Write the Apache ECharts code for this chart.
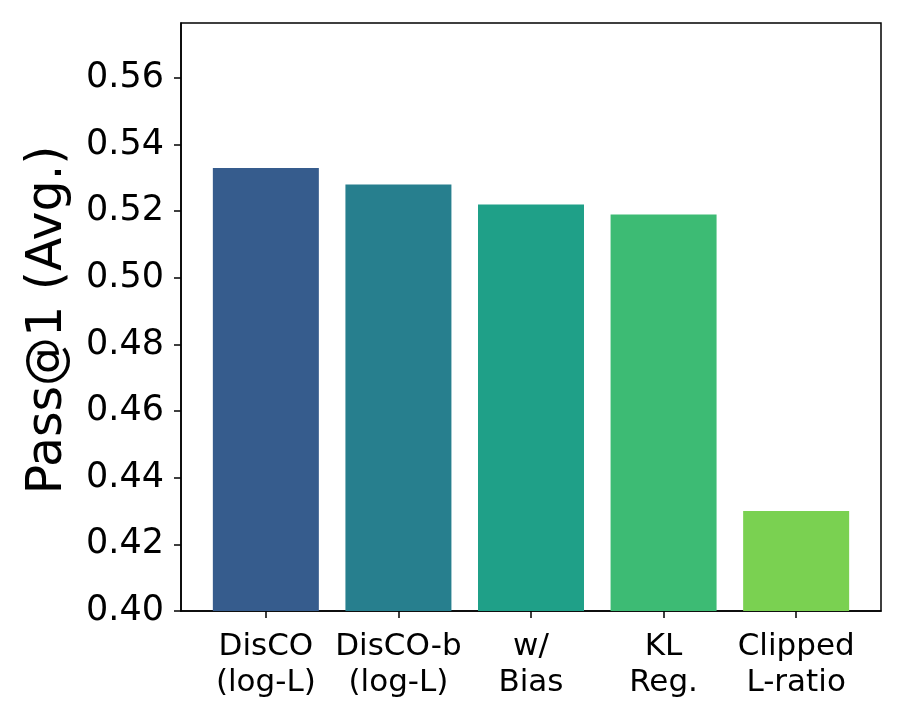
<!DOCTYPE html>
<html>
<head>
<meta charset="utf-8">
<script src="https://cdn.jsdelivr.net/npm/echarts@6/dist/echarts.min.js"></script>
<style>html,body{margin:0;padding:0;background:#fff}#c{width:916px;height:712px}</style>
</head>
<body>
<div id="c"></div>
<script>
var categories = ["DisCO\n(log-L)", "DisCO-b\n(log-L)", "w/\nBias", "KL\nReg.", "Clipped\nL-ratio"];
var values = [0.533, 0.528, 0.522, 0.519, 0.430];
var barColors = ["#365C8D", "#277F8E", "#1FA088", "#3DBB74", "#7AD151"];
var yTicks = [0.40, 0.42, 0.44, 0.46, 0.48, 0.50, 0.52, 0.54, 0.56];
var catPositions = [0, 1, 2, 3, 4];

var font = "DejaVu Sans";
var chart = echarts.init(document.getElementById('c'), null, {renderer: 'canvas'});
chart.setOption({
  animation: false,
  backgroundColor: '#fff',
  grid: {left: 181, right: 35, top: 23, bottom: 101, show: true, borderColor: '#000', borderWidth: 1.5, backgroundColor: 'transparent'},
  xAxis: {
    type: 'value', min: -0.64, max: 4.64,
    splitLine: {show: false},
    axisLine: {show: true, onZero: false, lineStyle: {color: '#000', width: 1.5}},
    axisTick: {show: true, customValues: catPositions, length: 7, lineStyle: {color: '#000', width: 1.5}},
    axisLabel: {show: true, customValues: catPositions, margin: 18, color: '#000', fontFamily: font, fontSize: 31, lineHeight: 36,
      formatter: function (v) { return categories[Math.round(v)]; }}
  },
  yAxis: {
    type: 'value', min: 0.40, max: 0.5765,
    splitLine: {show: false},
    axisLine: {show: true, onZero: false, lineStyle: {color: '#000', width: 1.5}},
    axisTick: {show: true, customValues: yTicks, length: 7, lineStyle: {color: '#000', width: 1.5}},
    axisLabel: {show: true, customValues: yTicks, margin: 17, color: '#000', fontFamily: font, fontSize: 35,
      formatter: function (v) { return v.toFixed(2); }}
  },
  graphic: [{
    type: 'text', x: 48, y: 320, rotation: Math.PI / 2,
    style: {text: 'Pass@1 (Avg.)', fill: '#000', font: '49px "DejaVu Sans"', align: 'center', verticalAlign: 'middle'}
  }],
  series: [{
    type: 'bar',
    barWidth: 106,
    data: values.map(function (v, i) { return {value: [catPositions[i], v], itemStyle: {color: barColors[i]}}; })
  }]
});
</script>
</body>
</html>
